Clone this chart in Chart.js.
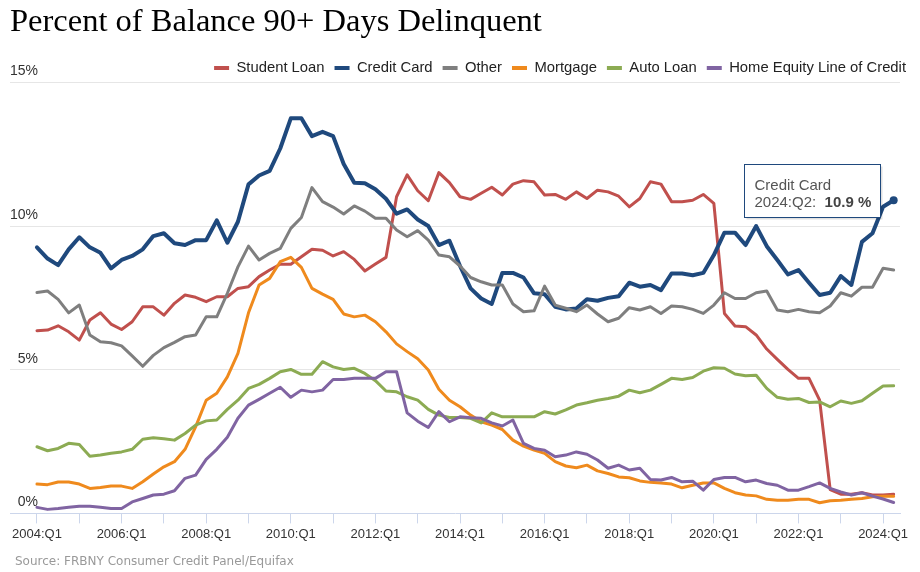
<!DOCTYPE html>
<html>
<head>
<meta charset="utf-8">
<script src="https://cdn.jsdelivr.net/npm/chart.js@4.4.1/dist/chart.umd.min.js"></script>
<style>
  html, body { margin: 0; padding: 0; background: #ffffff; }
  #wrap { width: 920px; height: 572px; }
</style>
</head>
<body>
<div id="wrap"><canvas id="c" width="920" height="572"></canvas></div>
<script>
// Quarter categories 2004:Q1 .. 2024:Q2
const quarters = [];
for (let yr = 2004; yr <= 2024; yr++) {
  for (let q = 1; q <= 4; q++) {
    if (yr === 2024 && q > 2) break;
    quarters.push(yr + ':Q' + q);
  }
}

const seriesNames = ['Student Loan', 'Credit Card', 'Other', 'Mortgage', 'Auto Loan', 'Home Equity Line of Credit'];

const studentLoan = [
  6.36, 6.38, 6.53, 6.32, 6.03, 6.73, 6.98, 6.59, 6.40, 6.67,
  7.19, 7.19, 6.90, 7.31, 7.60, 7.52, 7.37, 7.54, 7.54, 7.83,
  7.89, 8.24, 8.47, 8.67, 8.67, 8.93, 9.19, 9.16, 8.96, 9.11,
  8.84, 8.44, 8.68, 8.91, 11.02, 11.78, 11.23, 10.88, 11.86, 11.51,
  11.02, 10.93, 11.14, 11.35, 11.08, 11.46, 11.58, 11.54, 11.08, 11.10,
  10.93, 11.19, 10.96, 11.25, 11.19, 11.04, 10.67, 10.96, 11.54, 11.46,
  10.85, 10.85, 10.90, 11.10, 10.79, 6.96, 6.52, 6.50, 6.21, 5.72,
  5.36, 5.01, 4.70, 4.70, 3.94, 0.83, 0.67, 0.67, 0.72, 0.64,
  0.64, 0.67
];
const creditCard = [
  9.26, 8.87, 8.64, 9.19, 9.61, 9.26, 9.07, 8.53, 8.82, 8.96,
  9.19, 9.65, 9.75, 9.40, 9.34, 9.51, 9.51, 10.20, 9.42, 10.15,
  11.45, 11.76, 11.92, 12.70, 13.75, 13.75, 13.13, 13.28, 13.13, 12.16,
  11.51, 11.49, 11.28, 10.95, 10.43, 10.58, 10.23, 10.00, 9.34, 9.49,
  8.61, 7.83, 7.48, 7.29, 8.37, 8.37, 8.21, 7.66, 7.63, 7.19,
  7.10, 7.13, 7.45, 7.40, 7.50, 7.56, 8.03, 7.89, 7.95, 7.77,
  8.35, 8.35, 8.29, 8.37, 8.99, 9.77, 9.77, 9.34, 10.00, 9.30,
  8.82, 8.32, 8.47, 8.03, 7.60, 7.68, 8.26, 7.95, 9.45, 9.75,
  10.67, 10.9
];
const other = [
  7.69, 7.74, 7.45, 6.98, 7.25, 6.21, 5.97, 5.94, 5.83, 5.48,
  5.12, 5.50, 5.77, 5.95, 6.15, 6.21, 6.84, 6.84, 7.66, 8.58,
  9.30, 8.82, 9.05, 9.22, 9.92, 10.30, 11.34, 10.85, 10.66, 10.42,
  10.70, 10.52, 10.27, 10.27, 9.86, 9.63, 9.84, 9.51, 8.99, 8.93,
  8.61, 8.21, 8.06, 7.95, 7.95, 7.29, 7.02, 7.05, 7.91, 7.25,
  7.14, 7.02, 7.25, 6.94, 6.67, 6.79, 7.16, 7.08, 7.19, 6.96,
  7.22, 7.19, 7.10, 6.96, 7.25, 7.68, 7.48, 7.48, 7.68, 7.74,
  7.08, 7.02, 7.10, 7.02, 6.98, 7.22, 7.68, 7.56, 7.87, 7.87,
  8.53, 8.47
];
const mortgage = [
  1.02, 1.00, 1.09, 1.09, 1.02, 0.87, 0.90, 0.95, 0.95, 0.87,
  1.10, 1.37, 1.62, 1.80, 2.23, 3.01, 3.94, 4.18, 4.75, 5.57,
  6.98, 7.95, 8.18, 8.76, 8.91, 8.56, 7.83, 7.63, 7.45, 6.94,
  6.84, 6.90, 6.67, 6.32, 5.90, 5.63, 5.38, 4.99, 4.32, 3.94,
  3.71, 3.42, 3.19, 3.07, 2.92, 2.55, 2.34, 2.20, 2.09, 1.80,
  1.65, 1.59, 1.68, 1.48, 1.39, 1.27, 1.24, 1.13, 1.08, 1.06,
  1.02, 0.89, 0.98, 1.06, 1.06, 0.87, 0.72, 0.64, 0.61, 0.49,
  0.46, 0.46, 0.49, 0.49, 0.37, 0.44, 0.46, 0.49, 0.52, 0.58,
  0.60, 0.60
];
const autoLoan = [
  2.32, 2.18, 2.26, 2.44, 2.40, 1.99, 2.03, 2.09, 2.14, 2.23,
  2.58, 2.63, 2.60, 2.55, 2.78, 3.07, 3.22, 3.25, 3.62, 3.94,
  4.35, 4.49, 4.70, 4.93, 5.01, 4.84, 4.84, 5.28, 5.10, 5.01,
  5.05, 4.87, 4.62, 4.26, 4.23, 4.06, 3.94, 3.62, 3.42, 3.34,
  3.34, 3.31, 3.15, 3.50, 3.36, 3.36, 3.36, 3.36, 3.54, 3.46,
  3.60, 3.77, 3.85, 3.94, 4.00, 4.08, 4.29, 4.20, 4.29, 4.49,
  4.70, 4.66, 4.73, 4.95, 5.07, 5.05, 4.85, 4.79, 4.81, 4.35,
  4.04, 3.97, 4.00, 3.86, 3.88, 3.71, 3.91, 3.83, 3.92, 4.18,
  4.43, 4.44
];
const heloc = [
  0.21, 0.14, 0.17, 0.21, 0.25, 0.25, 0.21, 0.17, 0.17, 0.40,
  0.52, 0.64, 0.67, 0.79, 1.22, 1.33, 1.88, 2.23, 2.65, 3.31,
  3.77, 3.97, 4.18, 4.39, 4.04, 4.29, 4.23, 4.29, 4.66, 4.66,
  4.70, 4.70, 4.70, 4.93, 4.93, 3.50, 3.21, 2.99, 3.54, 3.19,
  3.36, 3.33, 3.31, 3.15, 3.04, 3.25, 2.44, 2.26, 2.20, 1.97,
  2.03, 2.14, 2.06, 1.86, 1.57, 1.68, 1.51, 1.57, 1.18, 1.16,
  1.25, 1.10, 1.12, 0.81, 1.18, 1.25, 1.25, 1.10, 1.16, 1.04,
  0.98, 0.81, 0.81, 0.93, 1.06, 0.87, 0.75, 0.64, 0.72, 0.60,
  0.50, 0.38
];

const yTickValues = [0, 5, 10, 15];
const sourceText = 'Source: FRBNY Consumer Credit Panel/Equifax';
const titleText = 'Percent of Balance 90+ Days Delinquent';

const seriesValues = [studentLoan, creditCard, other, mortgage, autoLoan, heloc];
const colors = ['#c0504d', '#1f497d', '#7f7f7f', '#ef8a1d', '#8cab53', '#8064a2'];
const widths = [3, 4, 3, 3, 3, 3];
const lastIndex = quarters.length - 1;

const datasets = seriesNames.map((name, k) => ({
  label: name,
  data: seriesValues[k].map((v, i) => ({ x: i, y: v })),
  borderColor: colors[k],
  backgroundColor: colors[k],
  borderWidth: widths[k],
  borderJoinStyle: 'round',
  borderCapStyle: 'round',
  tension: 0,
  fill: false,
  order: seriesNames.length - k,
  pointRadius: k === 1 ? (ctx => ctx.dataIndex === lastIndex ? 4 : 0) : 0,
  pointBackgroundColor: colors[k],
  pointBorderWidth: 0,
  pointHoverRadius: 0
}));

const sansFont = "'Liberation Sans', Arial, sans-serif";

const legendShift = {
  id: 'legendShift',
  afterLayout(chart) {
    const l = chart.legend;
    if (l) { l.left += 16; l.right += 16; l.top += 3; l.bottom += 3; }
  }
};

const extras = {
  id: 'extras',
  afterDraw(chart) {
    const ctx = chart.ctx;
    // source line
    ctx.save();
    ctx.font = "12px 'DejaVu Sans', Verdana, sans-serif";
    ctx.fillStyle = '#999999';
    ctx.textAlign = 'left';
    ctx.textBaseline = 'alphabetic';
    ctx.fillText(sourceText, 15, 565);
    ctx.restore();

    // static tooltip for Credit Card last point
    const meta = chart.getDatasetMeta(1);
    const pt = meta.data[lastIndex];
    if (!pt) return;
    const px = pt.x, py = pt.y;
    const bx = Math.round(px - 150) + 0.5, by = Math.round(py - 36) + 0.5;
    const bw = 136, bh = 53;
    ctx.save();
    ctx.fillStyle = 'rgba(0,0,0,0.12)';
    ctx.fillRect(bx + 2, by + 2, bw, bh);
    ctx.fillStyle = '#ffffff';
    ctx.fillRect(bx, by, bw, bh);
    ctx.strokeStyle = colors[1];
    ctx.lineWidth = 1;
    ctx.strokeRect(bx, by, bw, bh);
    ctx.textBaseline = 'middle';
    ctx.textAlign = 'left';
    ctx.font = '15px ' + sansFont;
    ctx.fillStyle = '#555555';
    const tx = bx + 10;
    ctx.fillText(seriesNames[1], tx, by + 21);
    const lbl = quarters[lastIndex] + ':\u00a0\u00a0';
    ctx.fillText(lbl, tx, by + 38.5);
    const w = ctx.measureText(lbl).width;
    ctx.font = 'bold 15px ' + sansFont;
    ctx.fillStyle = '#444444';
    ctx.fillText(creditCard[lastIndex].toFixed(1) + ' %', tx + w, by + 38.5);
    ctx.restore();
  }
};

new Chart(document.getElementById('c'), {
  type: 'line',
  data: { datasets },
  plugins: [legendShift, extras],
  options: {
    responsive: false,
    animation: false,
    devicePixelRatio: 1,
    layout: { padding: { left: 10, right: 20, top: 0, bottom: 27 } },
    plugins: {
      tooltip: { enabled: false },
      title: {
        display: true,
        text: titleText,
        align: 'start',
        color: '#000000',
        font: { family: "'Liberation Serif', 'Times New Roman', serif", size: 32.5, weight: 'normal' },
        padding: { top: 3, bottom: 5.6 }
      },
      legend: {
        display: true,
        position: 'top',
        align: 'end',
        labels: {
          boxWidth: 15,
          boxHeight: 4,
          padding: 10,
          color: '#222222',
          font: { family: sansFont, size: 14.8 },
          sort: (a, b) => a.datasetIndex - b.datasetIndex,
          generateLabels: (chart) => Chart.defaults.plugins.legend.labels.generateLabels(chart)
            .map(l => Object.assign(l, { lineWidth: 0, fillStyle: colors[l.datasetIndex], strokeStyle: colors[l.datasetIndex] }))
        }
      }
    },
    scales: {
      x: {
        type: 'linear',
        min: -2.55,
        max: 81.6,
        ticks: {
          stepSize: 4,
          autoSkip: false,
          maxRotation: 0,
          minRotation: 0,
          includeBounds: false,
          padding: 3,
          color: '#333333',
          font: { family: sansFont, size: 13 },
          callback: (v) => {
            const i = Math.round(v);
            return (i % 8 === 0 && quarters[i]) ? quarters[i] : '';
          }
        },
        grid: { drawOnChartArea: false, drawTicks: true, tickLength: 10, color: '#ccd6eb' },
        border: { display: true, color: '#ccd6eb', width: 1 }
      },
      y: {
        min: 0,
        max: 15,
        afterBuildTicks: (scale) => { scale.ticks = yTickValues.map(v => ({ value: v })); },
        ticks: {
          mirror: true,
          crossAlign: 'far',
          padding: 0,
          labelOffset: -11,
          color: '#333333',
          font: { family: sansFont, size: 14 },
          callback: (v) => v + '%'
        },
        grid: {
          drawTicks: false,
          color: (ctx) => (ctx.tick && ctx.tick.value === 0) ? 'rgba(0,0,0,0)' : '#e6e6e6'
        },
        border: { display: false }
      }
    }
  }
});
</script>
</body>
</html>
